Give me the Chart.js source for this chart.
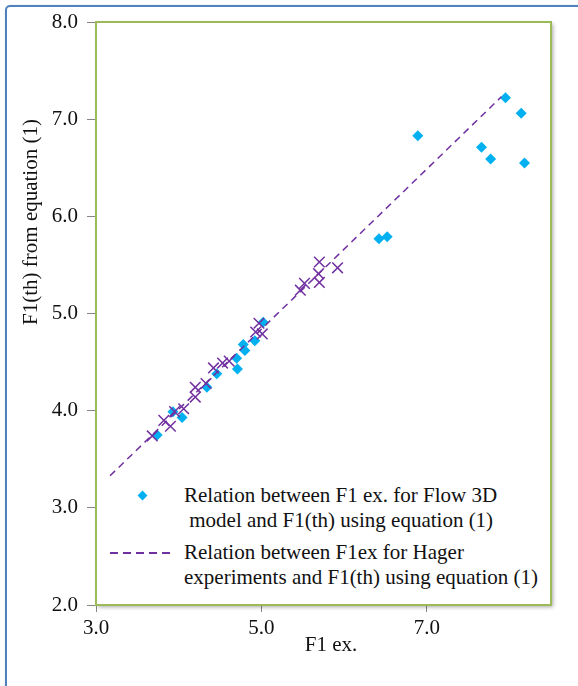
<!DOCTYPE html>
<html>
<head>
<meta charset="utf-8">
<script src="https://cdn.jsdelivr.net/npm/chart.js@4.4.1/dist/chart.umd.min.js"></script>
<style>
  html, body { margin: 0; padding: 0; background: #fff; }
  body { width: 578px; height: 686px; position: relative; overflow: hidden; font-family: "Liberation Serif", "Times New Roman", serif; }
  #frame { position: absolute; left: 5px; top: 5px; width: 640px; height: 760px; border: 2px solid #4f81bd; border-radius: 5px; box-shadow: 1px 1px 3px rgba(0,0,0,0.3); }
  #wrap { position: absolute; left: 0; top: 0; width: 578px; height: 686px; }
  #legend { position: absolute; left: 99px; top: 479px; width: 450px; height: 124px; background: #fff; color: #111; font-size: 21px; line-height: 25px; }
  .entry { position: absolute; left: 0; width: 100%; }
  .text { position: absolute; left: 85px; white-space: pre; }
  .diamond { position: absolute; width: 7px; height: 7px; background: #00b0f0; transform: rotate(45deg); }
  .dash { position: absolute; height: 1.5px; background: repeating-linear-gradient(to right, #7030a0 0 8px, transparent 8px 13px); }
</style>
</head>
<body>
<div id="frame"></div>
<div id="wrap"><canvas id="chart" width="578" height="686"></canvas></div>
<div id="legend"></div>
<script>
// Flow 3D model points (F1 ex., F1(th))
const flowX = [7.95, 8.14, 6.89, 7.66, 7.77, 8.18, 6.42, 6.52,
               5.02, 4.92, 4.78, 4.80, 4.70, 4.71, 4.46, 4.34, 3.93, 4.04, 3.74];
const flowY = [7.22, 7.06, 6.83, 6.71, 6.59, 6.55, 5.77, 5.79,
               4.91, 4.72, 4.68, 4.62, 4.54, 4.43, 4.38, 4.24, 3.99, 3.93, 3.75];

// Hager experiments (cross markers)
const hagerX = [3.68, 3.82, 3.90, 3.95, 4.06, 4.20, 4.20, 4.33, 4.42, 4.53,
                4.61, 4.93, 5.01, 4.97, 5.47, 5.52, 5.70, 5.69, 5.70, 5.92];
const hagerY = [3.74, 3.90, 3.84, 3.99, 4.02, 4.24, 4.14, 4.28, 4.44, 4.49,
                4.51, 4.81, 4.79, 4.90, 5.24, 5.31, 5.32, 5.41, 5.53, 5.47];

// dashed relation line
const lineX = [3.17, 7.90];
const lineY = [3.33, 7.23];

const xTicks = [3, 5, 7];
const yTicks = [2, 3, 4, 5, 6, 7, 8];

const flowLabel = ["Relation between F1 ex. for Flow 3D", " model and F1(th) using equation (1)"];
const hagerLabel = ["Relation between F1ex for Hager", "experiments and F1(th) using equation (1)"];
const xTitle = "F1 ex.";
const yTitle = "F1(th) from equation (1)";

const FONT = "Liberation Serif";

function pts(xs, ys) {
  return xs.map((x, i) => ({ x: x, y: ys[i] }));
}

// green plot area border with shadow
const plotFrame = {
  id: "plotFrame",
  beforeDatasetsDraw(chart) {
    const { ctx, chartArea: a } = chart;
    ctx.save();
    ctx.shadowColor = "rgba(0,0,0,0.35)";
    ctx.shadowBlur = 4;
    ctx.shadowOffsetX = 2;
    ctx.shadowOffsetY = 2;
    ctx.fillStyle = "#fff";
    ctx.fillRect(a.left, a.top, a.right - a.left, a.bottom - a.top);
    ctx.restore();
    ctx.save();
    ctx.strokeStyle = "#9bbb59";
    ctx.lineWidth = 2;
    ctx.strokeRect(a.left, a.top, a.right - a.left, a.bottom - a.top);
    ctx.restore();
  },
};

// axis titles, placed like the original
const axisTitles = {
  id: "axisTitles",
  afterDraw(chart) {
    const ctx = chart.ctx;
    ctx.save();
    ctx.fillStyle = "#111";
    ctx.font = "21px '" + FONT + "'";
    ctx.textAlign = "center";
    ctx.textBaseline = "middle";
    ctx.fillText(xTitle, 331, 645);
    ctx.translate(31, 222);
    ctx.rotate(-Math.PI / 2);
    ctx.fillText(yTitle, 0, 0);
    ctx.restore();
  },
};

new Chart(document.getElementById("chart").getContext("2d"), {
  type: "scatter",
  data: {
    datasets: [
      {
        label: "Hager",
        data: pts(hagerX, hagerY),
        pointStyle: "crossRot",
        pointRadius: 7.5,
        borderColor: "#7030a0",
        backgroundColor: "#7030a0",
        borderWidth: 1.5,
      },
      {
        label: hagerLabel.join(" "),
        data: pts(lineX, lineY),
        showLine: true,
        pointRadius: 0,
        borderColor: "#7030a0",
        borderWidth: 1.5,
        borderDash: [7, 5],
      },
      {
        label: flowLabel.join(" "),
        data: pts(flowX, flowY),
        pointStyle: "rectRot",
        pointRadius: 5.5,
        backgroundColor: "#00b0f0",
        borderWidth: 0,
      },
    ],
  },
  options: {
    responsive: false,
    animation: false,
    layout: { padding: { left: 0, top: 22, right: 27, bottom: 0 } },
    plugins: {
      legend: { display: false },
      tooltip: { enabled: false },
    },
    scales: {
      x: {
        type: "linear",
        min: 3,
        max: 8.5,
        afterFit: (s) => { s.height = 81; },
        afterBuildTicks: (s) => { s.ticks = xTicks.map((v) => ({ value: v })); },
        grid: { drawOnChartArea: false, tickLength: 7, color: "#868686" },
        border: { display: false },
        ticks: {
          color: "#111",
          padding: 4,
          font: { family: FONT, size: 21 },
          callback: (v) => Number(v).toFixed(1),
        },
      },
      y: {
        type: "linear",
        min: 2,
        max: 8,
        afterFit: (s) => { s.width = 96; },
        afterBuildTicks: (s) => { s.ticks = yTicks.map((v) => ({ value: v })); },
        grid: { drawOnChartArea: false, tickLength: 9, color: "#868686" },
        border: { display: false },
        ticks: {
          color: "#111",
          padding: 9,
          font: { family: FONT, size: 21 },
          callback: (v) => Number(v).toFixed(1),
        },
      },
    },
  },
  plugins: [plotFrame, axisTitles],
});

// legend box
const legend = document.getElementById("legend");
function addEntry(top, lines, marker) {
  const e = document.createElement("div");
  e.className = "entry";
  e.style.top = top + "px";
  e.appendChild(marker);
  lines.forEach((t, i) => {
    const d = document.createElement("div");
    d.className = "text";
    d.style.top = i * 25 + "px";
    d.textContent = t;
    e.appendChild(d);
  });
  legend.appendChild(e);
}
const dia = document.createElement("div");
dia.className = "diamond";
dia.style.left = "40px";
dia.style.top = "9px";
addEntry(4, flowLabel, dia);

const dash = document.createElement("div");
dash.className = "dash";
dash.style.left = "11px";
dash.style.width = "65px";
dash.style.top = "12px";
addEntry(61, hagerLabel, dash);
</script>
</body>
</html>
